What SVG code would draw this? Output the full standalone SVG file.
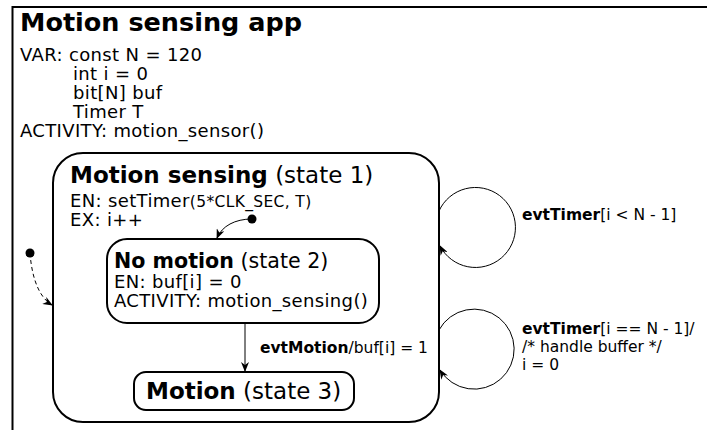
<svg xmlns="http://www.w3.org/2000/svg" width="707" height="430" viewBox="0 0 707 430">
<style>
text{font-family:"DejaVu Sans","Verdana",sans-serif;fill:#000}
.b{font-weight:bold}
.t{font-size:18px;letter-spacing:0.35px}
.h{font-size:23px}
.l{font-size:15.5px}
.s{fill:#fff;stroke:#000;stroke-width:2}
.c{fill:none;stroke:#000;stroke-width:1}
</style>
<defs>
<marker id="ah" viewBox="0 0 10 8" refX="9" refY="4" markerWidth="10" markerHeight="8" markerUnits="userSpaceOnUse" orient="auto">
<path d="M0,0 L10,4 L0,8 L3,4 Z" fill="#000"/>
</marker>
</defs>
<rect width="707" height="430" fill="#fff"/>
<g id="app">
<rect x="12.5" y="7" width="720" height="440" fill="#fff" stroke="#000" stroke-width="2"/>
<text x="20" y="31" class="b" font-size="25.5">Motion sensing app</text>
<text class="t" x="20" y="61">VAR: const N = 120</text>
<text class="t" x="73" y="80">int i = 0</text>
<text class="t" x="73" y="99">bit[N] buf</text>
<text class="t" x="73" y="118">Timer T</text>
<text class="t" x="20" y="137">ACTIVITY: motion_sensor()</text>
</g>
<g id="state1">
<rect class="s" x="53" y="153" width="386" height="269" rx="30"/>
<text x="70" y="183" class="h"><tspan class="b">Motion sensing</tspan> (state 1)</text>
<text x="70" y="207" class="t">EN: setTimer<tspan font-size="15.5">(5*CLK_SEC, T)</tspan></text>
<text x="70" y="226" class="t">EX: i++</text>
</g>
<g id="state2">
<rect class="s" x="107" y="239" width="272" height="84" rx="20"/>
<text x="114" y="268" font-size="20.6"><tspan class="b">No motion</tspan> (state 2)</text>
<text x="114" y="288" class="t">EN: buf[i] = 0</text>
<text x="114" y="307" class="t">ACTIVITY: motion_sensing()</text>
</g>
<g id="state3">
<rect class="s" x="134" y="372" width="220" height="38" rx="12"/>
<text x="146" y="399" class="h"><tspan class="b">Motion</tspan> (state 3)</text>
</g>
<g id="init1">
<circle cx="252" cy="219" r="4.5" fill="#000"/>
</g>
<g id="init0">
<circle cx="30" cy="253" r="4.5" fill="#000"/>
</g>
<g id="connectors">
<path class="c" d="M252,219 C235,219 222,226 217,238" marker-end="url(#ah)"/>
<path class="c" d="M30,253 C32,280 40,298 52,305" stroke-dasharray="4,3" marker-end="url(#ah)"/>
<path class="c" d="M245,323 L245,371" marker-end="url(#ah)"/>
<path class="c" d="M439,211 A40,40 0 1 1 440,246" marker-end="url(#ah)"/>
<path class="c" d="M439,330 A40,40 0 1 1 440,370" marker-end="url(#ah)"/>
<text x="260" y="353" class="l"><tspan class="b">evtMotion</tspan>/buf[i] = 1</text>
<text x="522" y="220" class="l"><tspan class="b">evtTimer</tspan>[i &lt; N - 1]</text>
<text x="522" y="334" class="l"><tspan class="b">evtTimer</tspan>[i == N - 1]/</text>
<text x="522" y="352" class="l">/* handle buffer */</text>
<text x="522" y="370" class="l">i = 0</text>
</g>
</svg>
